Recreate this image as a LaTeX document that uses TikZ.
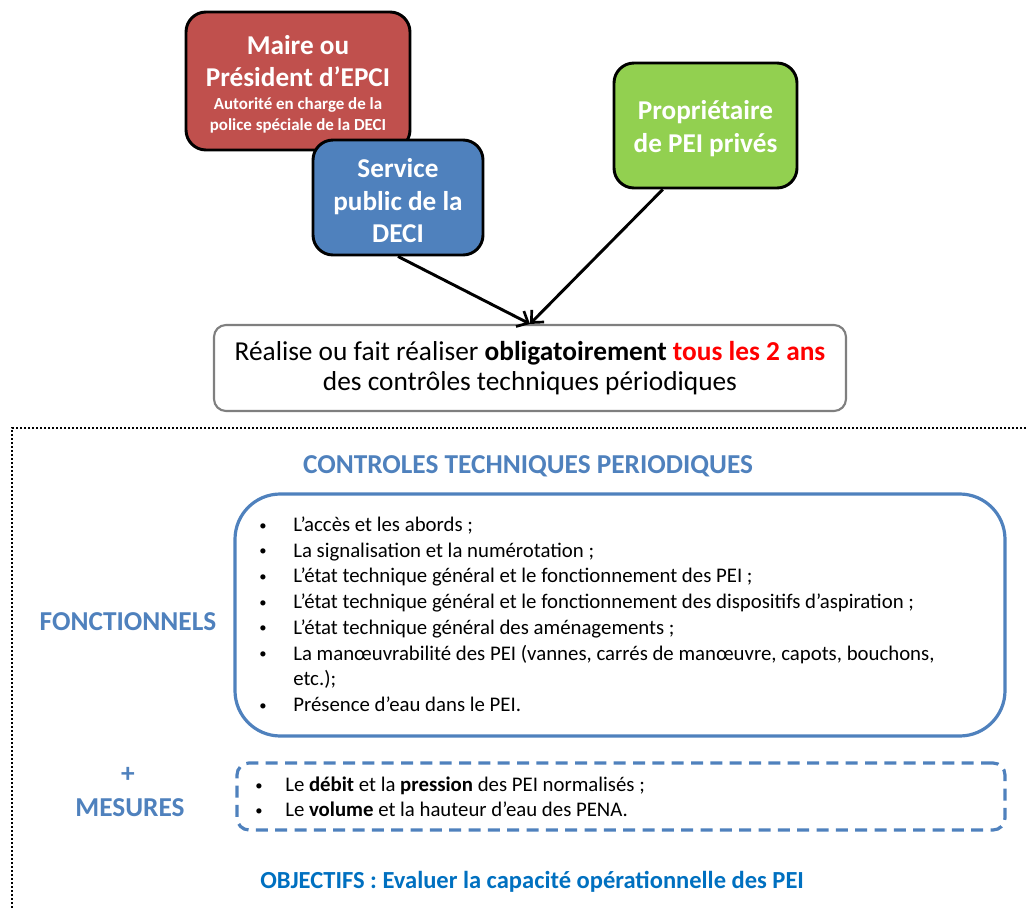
\documentclass[tikz,border=0pt]{standalone}
\usepackage{fontspec}
\setmainfont{Carlito}
\usetikzlibrary{arrows.meta,calc}
\definecolor{cred}{HTML}{C0504D}
\definecolor{cblue}{HTML}{4F81BD}
\definecolor{cgreen}{HTML}{92D050}
\definecolor{cgrey}{HTML}{7F7F7F}
\definecolor{cobj}{HTML}{0070C0}
\definecolor{cbright}{HTML}{FF0000}
\newdimen\pxu \pxu=0.75pt
\newcommand{\smallbox}{\fontsize{12.7}{17}\selectfont}
\newcommand{\bul}[1]{\makebox[#1][l]{\hspace{1.5pt}\raisebox{1pt}{\fontsize{11}{11}\selectfont •}}}
\begin{document}
\begin{tikzpicture}[x=0.75pt,y=-0.75pt,
  actor/.style={draw=black, line width=2.2pt, rounded corners=15pt, text=white,
    font=\bfseries\fontsize{20.4}{24.4}\selectfont, align=center, inner sep=0pt},
  central/.style={draw=cgrey, line width=1.6pt, rounded corners=9pt, fill=white,
    font=\fontsize{20.5}{22.5}\selectfont, align=center, inner sep=0pt},
  arr/.style={line width=2.2pt, -{Straight Barb[length=7pt,width=13pt,line width=2pt]}},
  frame/.style={line width=1.6pt, dash pattern=on 1.5pt off 1.5pt},
  heading/.style={text=cblue, font=\bfseries\fontsize{20.5}{24}\selectfont, inner sep=0pt},
  item/.style={anchor=base west, inner sep=0pt, font=\fontsize{15.6}{19}\selectfont},
  listbox/.style={draw=cblue, line width=2.4pt, rounded corners=34pt, inner sep=0pt},
  mesbox/.style={draw=cblue, line width=2.4pt, dash pattern=on 9pt off 5.5pt, rounded corners=9pt, inner sep=0pt}]
\useasboundingbox (0,0) rectangle (1026,910);

% actors
\node[actor, fill=cred, minimum width=224\pxu, minimum height=138\pxu] (maire) at (298,81)
  {\rule{0pt}{19pt}Maire ou\\Président d’EPCI\\[-7.2pt]{\smallbox Autorité en charge de la}\\[-8.5pt]{\smallbox police spéciale de la DECI}};
\node[actor, fill=cblue, minimum width=170\pxu, minimum height=115\pxu] (service) at (398,197.5)
  {\rule{0pt}{19pt}Service\\public de la\\DECI};
\node[actor, fill=cgreen, minimum width=183\pxu, minimum height=125\pxu] (proprio) at (705.5,125.5)
  {\rule{0pt}{19pt}Propriétaire\\de PEI privés};

% central box
\node[central, minimum width=632\pxu, minimum height=86\pxu] (realise) at (530,368)
  {Réalise ou fait réaliser \textbf{obligatoirement} \textcolor{cbright}{\textbf{tous les 2 ans}}\\des contrôles techniques périodiques};

\draw[arr] (service.south) -- (realise.north);
\draw[arr] ($(proprio.south west)!0.27!(proprio.south east)$) -- (realise.north);

% dotted frame
\coordinate (fr1) at (1030,428);
\coordinate (fr2) at (12,428);
\coordinate (fr3) at (12,915);
\draw[frame] (fr1) -- (fr2) -- (fr3);

\node[heading] (title) at (528,466) {CONTROLES TECHNIQUES PERIODIQUES};

\node[listbox, minimum width=770\pxu, minimum height=242\pxu] (fbox) at (620,615) {};
\node[heading] (fonct) at (128,622) {FONCTIONNELS};

\node[item] (i1) at (257,531.5) {\bul{27pt}L’accès et les abords ;};
\node[item] (i2) at (257,557.2) {\bul{27pt}La signalisation et la numérotation ;};
\node[item] (i3) at (257,582.9) {\bul{27pt}L’état technique général et le fonctionnement des PEI ;};
\node[item] (i4) at (257,608.6) {\bul{27pt}L’état technique général et le fonctionnement des dispositifs d’aspiration ;};
\node[item] (i5) at (257,634.3) {\bul{27pt}L’état technique général des aménagements ;};
\node[item] (i6) at (257,660.0) {\bul{27pt}La manœuvrabilité des PEI (vannes, carrés de manœuvre, capots, bouchons,};
\node[item] (i6b) at (293,685.7) {etc.);};
\node[item] (i7) at (257,711.4) {\bul{27pt}Présence d’eau dans le PEI.};

\node[mesbox, minimum width=768\pxu, minimum height=67\pxu] (mbox) at (621,796.5) {};
\node[heading] (plus) at (128,775) {+};
\node[heading] (mes) at (130,808) {MESURES};
\node[item] (m1) at (253,791.5) {\bul{24pt}Le \textbf{débit} et la \textbf{pression} des PEI normalisés ;};
\node[item] (m2) at (253,816.5) {\bul{24pt}Le \textbf{volume} et la hauteur d’eau des PENA.};

\node[anchor=west, inner sep=0pt, text=cobj, font=\bfseries\fontsize{18.4}{22}\selectfont] (obj) at (260,882)
  {OBJECTIFS : Evaluer la capacité opérationnelle des PEI};
\end{tikzpicture}
\end{document}
